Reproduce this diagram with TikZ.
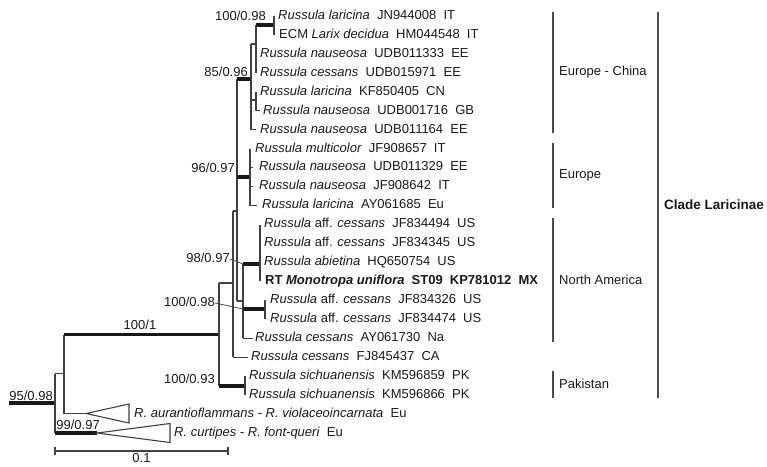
\documentclass[tikz,border=0pt]{standalone}
\usepackage{fontspec}
\setmainfont{Liberation Sans}
\tikzset{
  branch/.style={draw=black!75, line width=1.1pt},
  support/.style={draw=black!90, line width=3.2pt},
  leader/.style={draw=black!70, line width=0.8pt},
  region/.style={draw=black!70, line width=1.2pt},
  taxon/.style={anchor=west, inner sep=0pt, text height=9.3pt, text depth=2.7pt, text=black!90, font=\fontsize{13}{15}\selectfont},
  boot/.style={anchor=east, inner sep=0pt, text height=9.3pt, text depth=2.7pt, text=black!90, font=\fontsize{13}{15}\selectfont}
}
\newcommand{\fsep}{\hspace{0.55em}}
\begin{document}
\begin{tikzpicture}[x=1pt, y=-1pt]
  \useasboundingbox (0,0) rectangle (767,466);

  % taxa
  \node[taxon] (l01) at (278,16) {\textit{Russula laricina}\fsep JN944008\fsep IT};
  \node[taxon] (l02) at (279,35) {ECM \textit{Larix decidua}\fsep HM044548\fsep IT};
  \node[taxon] (l03) at (260,53.9) {\textit{Russula nauseosa}\fsep UDB011333\fsep EE};
  \node[taxon] (l04) at (260,72.9) {\textit{Russula cessans}\fsep UDB015971\fsep EE};
  \node[taxon] (l05) at (260,91.8) {\textit{Russula laricina}\fsep KF850405\fsep CN};
  \node[taxon] (l06) at (263,110.8) {\textit{Russula nauseosa}\fsep UDB001716\fsep GB};
  \node[taxon] (l07) at (260,129.7) {\textit{Russula nauseosa}\fsep UDB011164\fsep EE};
  \node[taxon] (l08) at (255,148.7) {\textit{Russula multicolor}\fsep JF908657\fsep IT};
  \node[taxon] (l09) at (259,167.6) {\textit{Russula nauseosa}\fsep UDB011329\fsep EE};
  \node[taxon] (l10) at (259,186.6) {\textit{Russula nauseosa}\fsep JF908642\fsep IT};
  \node[taxon] (l11) at (262,205.5) {\textit{Russula laricina}\fsep AY061685\fsep Eu};
  \node[taxon] (l12) at (264,224.5) {\textit{Russula} aff. \textit{cessans}\fsep JF834494\fsep US};
  \node[taxon] (l13) at (264,243.4) {\textit{Russula} aff. \textit{cessans}\fsep JF834345\fsep US};
  \node[taxon] (l14) at (264,262.4) {\textit{Russula abietina}\fsep HQ650754\fsep US};
  \node[taxon] (l15) at (265,281.3) {\textbf{RT \textit{Monotropa uniflora}\fsep ST09\fsep KP781012\fsep MX}};
  \node[taxon] (l16) at (270,300.3) {\textit{Russula} aff. \textit{cessans}\fsep JF834326\fsep US};
  \node[taxon] (l17) at (270,319.2) {\textit{Russula} aff. \textit{cessans}\fsep JF834474\fsep US};
  \node[taxon] (l18) at (255,338.2) {\textit{Russula cessans}\fsep AY061730\fsep Na};
  \node[taxon] (l19) at (251,357.1) {\textit{Russula cessans}\fsep FJ845437\fsep CA};
  \node[taxon] (l20) at (249,376.1) {\textit{Russula sichuanensis}\fsep KM596859\fsep PK};
  \node[taxon] (l21) at (249,395) {\textit{Russula sichuanensis}\fsep KM596866\fsep PK};
  \node[taxon] (l22) at (134,414) {\textit{R. aurantioflammans - R. violaceoincarnata}\fsep Eu};
  \node[taxon] (l23) at (174,432.9) {\textit{R. curtipes - R. font-queri}\fsep Eu};

  % internal nodes
  \coordinate (rt) at (9,403);
  \coordinate (r) at (55,403);
  \coordinate (a) at (64,373.5);
  \coordinate (lar) at (219,334.5);
  \coordinate (p) at (233,283);
  \coordinate (q) at (237,211);
  \coordinate (ec) at (251,79);
  \coordinate (e1) at (256,44);
  \coordinate (a12) at (274,25);
  \coordinate (e2) at (256,100);
  \coordinate (eu) at (250,177);
  \coordinate (na) at (243,301);
  \coordinate (n1) at (260,264);
  \coordinate (n2) at (265,309);
  \coordinate (pk) at (245,386);
  \coordinate (t1) at (86,413.5);
  \coordinate (t2) at (97,433);

  % root
  \draw[support] (rt) -- (r);
  \draw[branch] (r |- a) -- (r |- t2);
  \draw[branch] (r |- a) -- (a);
  \draw[support] (r |- t2) -- (t2);
  \draw[branch] (a |- lar) -- (a |- t1);
  \draw[support] (a |- lar) -- (lar);
  \draw[branch] (a |- t1) -- (t1);
  \draw[branch] (t1) -- ++(43,-9.5) -- ++(0,19) -- cycle;
  \draw[branch] (t2) -- ++(73,-9.5) -- ++(0,19) -- cycle;

  % clade Laricinae
  \draw[branch] (lar |- p) -- (lar |- pk);
  \draw[branch] (lar |- p) -- (p);
  \draw[support] (lar |- pk) -- (pk);
  \draw[branch] (pk |- l20.west) -- (pk |- l21.west);
  \draw[branch] (p |- q) -- (p |- l19.west);
  \draw[branch] (p |- q) -- (q);
  \draw[branch] (p |- l19.west) -- ([xshift=-3pt]l19.west);
  \draw[branch] (q |- ec) -- (q |- na);
  \draw[support] (q |- ec) -- (ec);
  \draw[support] (q |- eu) -- (eu);
  \draw[branch] (q |- na) -- (na);

  % Europe - China
  \draw[branch] (ec |- e1) -- (ec |- l07.west);
  \draw[branch] (ec |- e1) -- (e1);
  \draw[branch] (ec |- e2) -- (e2);
  \draw[branch] (ec |- l07.west) -- ([xshift=-4pt]l07.west);
  \draw[branch] (e1 |- a12) -- (e1 |- l04.west);
  \draw[support] (e1 |- a12) -- (a12);
  \draw[branch] (a12 |- l01.west) -- (a12 |- l02.west);
  \draw[branch] (e2 |- l05.west) -- (e2 |- l06.west);
  \draw[branch] (e2 |- l06.west) -- ([xshift=-3pt]l06.west);

  % Europe
  \draw[branch] (eu |- l08.west) -- (eu |- l11.west);
  \draw[branch] (eu |- l09.west) -- ([xshift=-6pt]l09.west);
  \draw[branch] (eu |- l10.west) -- ([xshift=-6pt]l10.west);
  \draw[branch] (eu |- l11.west) -- ([xshift=-5pt]l11.west);

  % North America
  \draw[branch] (na |- n1) -- (na |- l18.west);
  \draw[support] (na |- n1) -- (n1);
  \draw[support] (na |- n2) -- (n2);
  \draw[branch] (na |- l18.west) -- ([xshift=-2pt]l18.west);
  \draw[branch] (n1 |- l12.west) -- (n1 |- l15.west);
  \draw[branch] (n2 |- l16.west) -- (n2 |- l17.west);

  % support values
  \node[boot] (s1) at (266,17) {100/0.98};
  \node[boot] (s2) at (248,73) {85/0.96};
  \node[boot] (s3) at (235,169) {96/0.97};
  \node[boot] (s4) at (230,259) {98/0.97};
  \node[boot] (s5) at (215,303) {100/0.98};
  \node[boot] (s6) at (215,380) {100/0.93};
  \node[boot, anchor=center] (s7) at (140,326) {100/1};
  \node[boot] (s8) at (53,397) {95/0.98};
  \node[boot] (s9) at (100,426) {99/0.97};
  \draw[leader] (s4.east) -- (na |- n1);
  \draw[leader] (s5.east) -- (na |- n2);

  % regions
  \node[taxon] (g1) at (559,72.5) {Europe - China};
  \node[taxon] (g2) at (559,175.5) {Europe};
  \node[taxon] (g3) at (559,281) {North America};
  \node[taxon] (g4) at (559,385.5) {Pakistan};
  \node[taxon, font=\fontsize{13.5}{15}\selectfont\bfseries] (g5) at (664,206) {Clade Laricinae};
  \draw[region] (553,12) -- (553,133);
  \draw[region] (553,143) -- (553,208);
  \draw[region] (553,218) -- (553,342);
  \draw[region] (553,371) -- (553,398);
  \draw[region] (658,12) -- (658,398);

  % scale
  \draw[branch] (55,451) -- (228,451);
  \draw[branch] (55,447) -- (55,455);
  \draw[branch] (228,447) -- (228,455);
  \node[boot, anchor=center] (sc) at (141.5,459.5) {0.1};
\end{tikzpicture}
\end{document}
